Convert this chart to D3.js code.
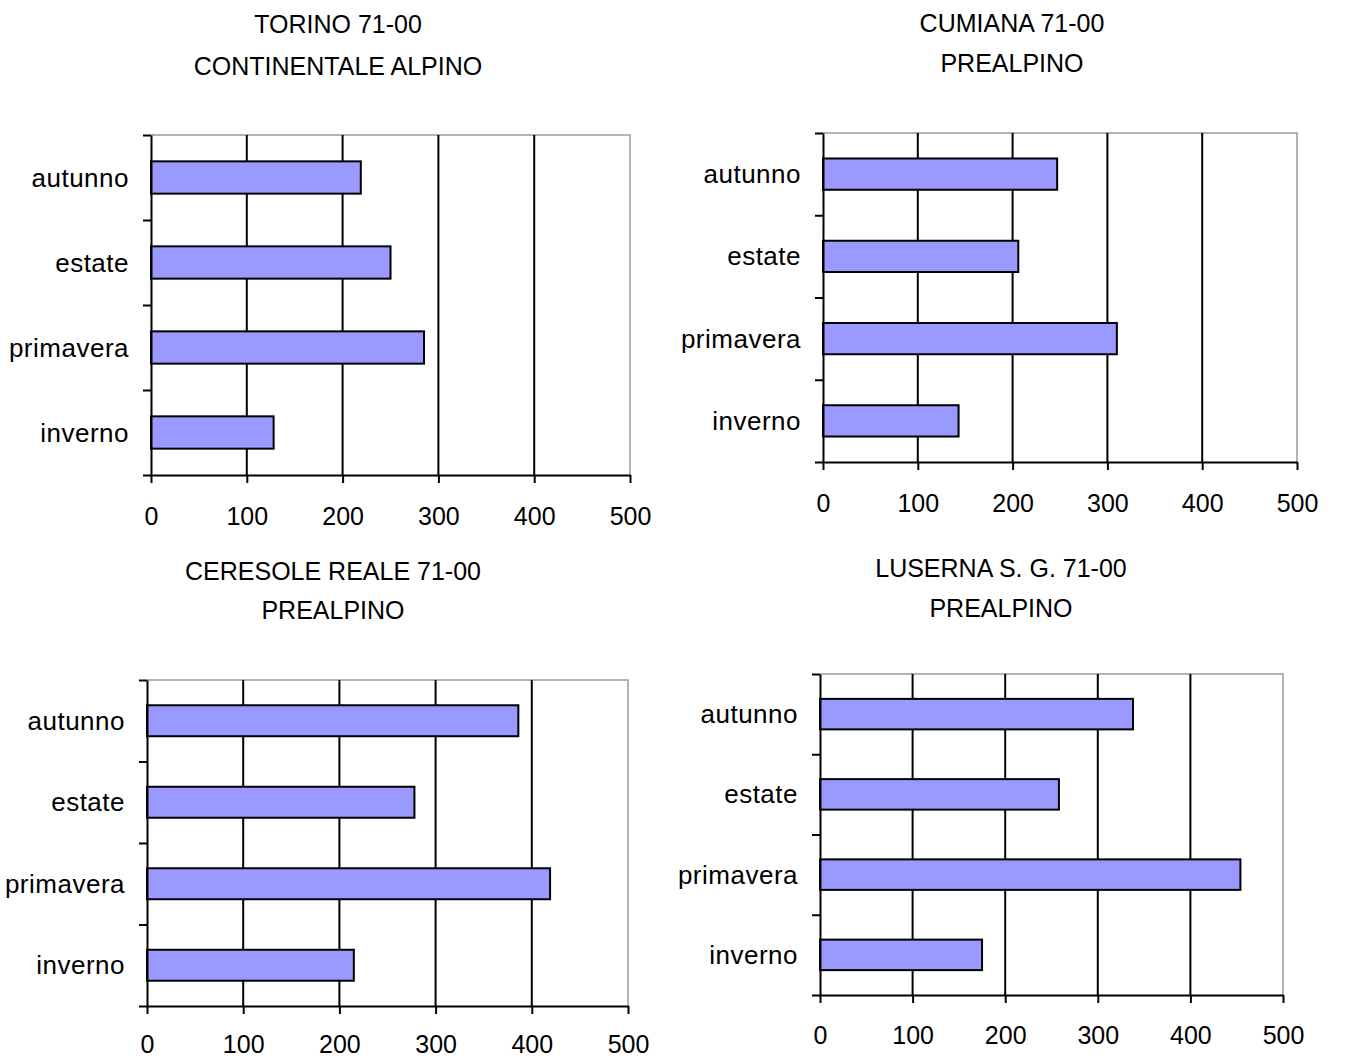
<!DOCTYPE html>
<html>
<head>
<meta charset="utf-8">
<script src="https://cdn.jsdelivr.net/npm/d3@7"></script>
<style>
  html, body { margin: 0; padding: 0; background: #ffffff; }
  svg { display: block; }
  text { font-family: "Liberation Sans", Arial, sans-serif; fill: #000; }
</style>
</head>
<body>
<svg id="chart" width="1358" height="1059"></svg>
<script>
// ---- data ----
const seasons = ["autunno", "estate", "primavera", "inverno"];
const torinoValues = [219, 250, 285, 128];
const cumianaValues = [247, 206, 310, 143];
const ceresoleValues = [386, 278, 419, 215];
const lusernaValues = [338, 258, 454, 175];
const xTickValues = [0, 100, 200, 300, 400, 500];
const titleLine1 = ["TORINO 71-00", "CUMIANA 71-00", "CERESOLE REALE 71-00", "LUSERNA S. G. 71-00"];
const titleLine2 = ["CONTINENTALE ALPINO", "PREALPINO", "PREALPINO", "PREALPINO"];
const seriesList = [torinoValues, cumianaValues, ceresoleValues, lusernaValues];

// ---- layout (pixel boxes of each plot area) ----
const layouts = [
  { left: 151, right: 630, top: 135, bottom: 475, tx: 338, ty1: 33, ty2: 75, pad: 24 },
  { left: 823, right: 1297, top: 133, bottom: 462, tx: 1012, ty1: 32, ty2: 72, pad: 24 },
  { left: 147, right: 628, top: 680, bottom: 1006, tx: 333, ty1: 580, ty2: 619, pad: 21 },
  { left: 820, right: 1283, top: 674, bottom: 995, tx: 1001, ty1: 577, ty2: 617, pad: 23 }
];

const svg = d3.select("#chart");
const FONT = 25;

layouts.forEach((L, i) => {
  const values = seriesList[i];
  const g = svg.append("g");

  const x = d3.scaleLinear().domain([0, 500]).range([L.left, L.right]);
  const y = d3.scaleBand().domain(seasons).range([L.top, L.bottom])
    .paddingInner(0.62).paddingOuter(0.31);
  const yEdge = d3.scaleLinear().domain([0, seasons.length]).range([L.top, L.bottom]);

  // titles
  g.append("text").attr("x", L.tx).attr("y", L.ty1).attr("text-anchor", "middle")
    .style("font-size", FONT + "px").text(titleLine1[i]);
  g.append("text").attr("x", L.tx).attr("y", L.ty2).attr("text-anchor", "middle")
    .style("font-size", FONT + "px").text(titleLine2[i]);

  // gray frame (top & right)
  g.append("path")
    .attr("d", `M${x(0)},${L.top}H${x(500)}V${L.bottom}`)
    .attr("fill", "none").attr("stroke", "#9a9a9a").attr("stroke-width", 1.5);

  // vertical gridlines
  g.selectAll(".grid").data(xTickValues.filter(v => v > 0 && v < 500)).enter()
    .append("line")
    .attr("x1", d => x(d)).attr("x2", d => x(d))
    .attr("y1", L.top).attr("y2", L.bottom)
    .attr("stroke", "#000").attr("stroke-width", 2);

  // bars
  g.selectAll(".bar").data(values).enter().append("rect")
    .attr("x", x(0))
    .attr("y", (d, k) => y(seasons[k]))
    .attr("width", d => x(d) - x(0))
    .attr("height", y.bandwidth())
    .attr("fill", "#9999ff")
    .attr("stroke", "#000").attr("stroke-width", 2);

  // left axis (ticks between categories)
  const leftAxis = d3.axisLeft(yEdge).tickValues(d3.range(seasons.length + 1))
    .tickFormat("").tickSizeInner(8).tickSizeOuter(0);
  const la = g.append("g").attr("transform", `translate(${x(0)},0)`).call(leftAxis);
  la.selectAll("path, line").attr("stroke", "#000").attr("stroke-width", 2);

  // category labels
  g.selectAll(".cat").data(seasons).enter().append("text")
    .attr("x", x(0) - 22)
    .attr("y", d => y(d) + y.bandwidth() / 2)
    .attr("dy", "0.35em")
    .attr("text-anchor", "end")
    .style("font-size", "26px")
    .style("letter-spacing", "0.5px")
    .text(d => d);

  // bottom axis
  const bottomAxis = d3.axisBottom(x).tickValues(xTickValues)
    .tickSizeInner(8).tickSizeOuter(0).tickPadding(L.pad).tickFormat(d3.format("d"));
  const ba = g.append("g").attr("transform", `translate(0,${L.bottom})`).call(bottomAxis);
  ba.select(".domain").attr("stroke", "#000").attr("stroke-width", 2);
  ba.selectAll(".tick line").attr("stroke", "#000").attr("stroke-width", 2);
  ba.selectAll(".tick text")
    .style("font-size", FONT + "px")
    .style("font-family", "'Liberation Sans', Arial, sans-serif")
    .attr("fill", "#000");
});
</script>
</body>
</html>
